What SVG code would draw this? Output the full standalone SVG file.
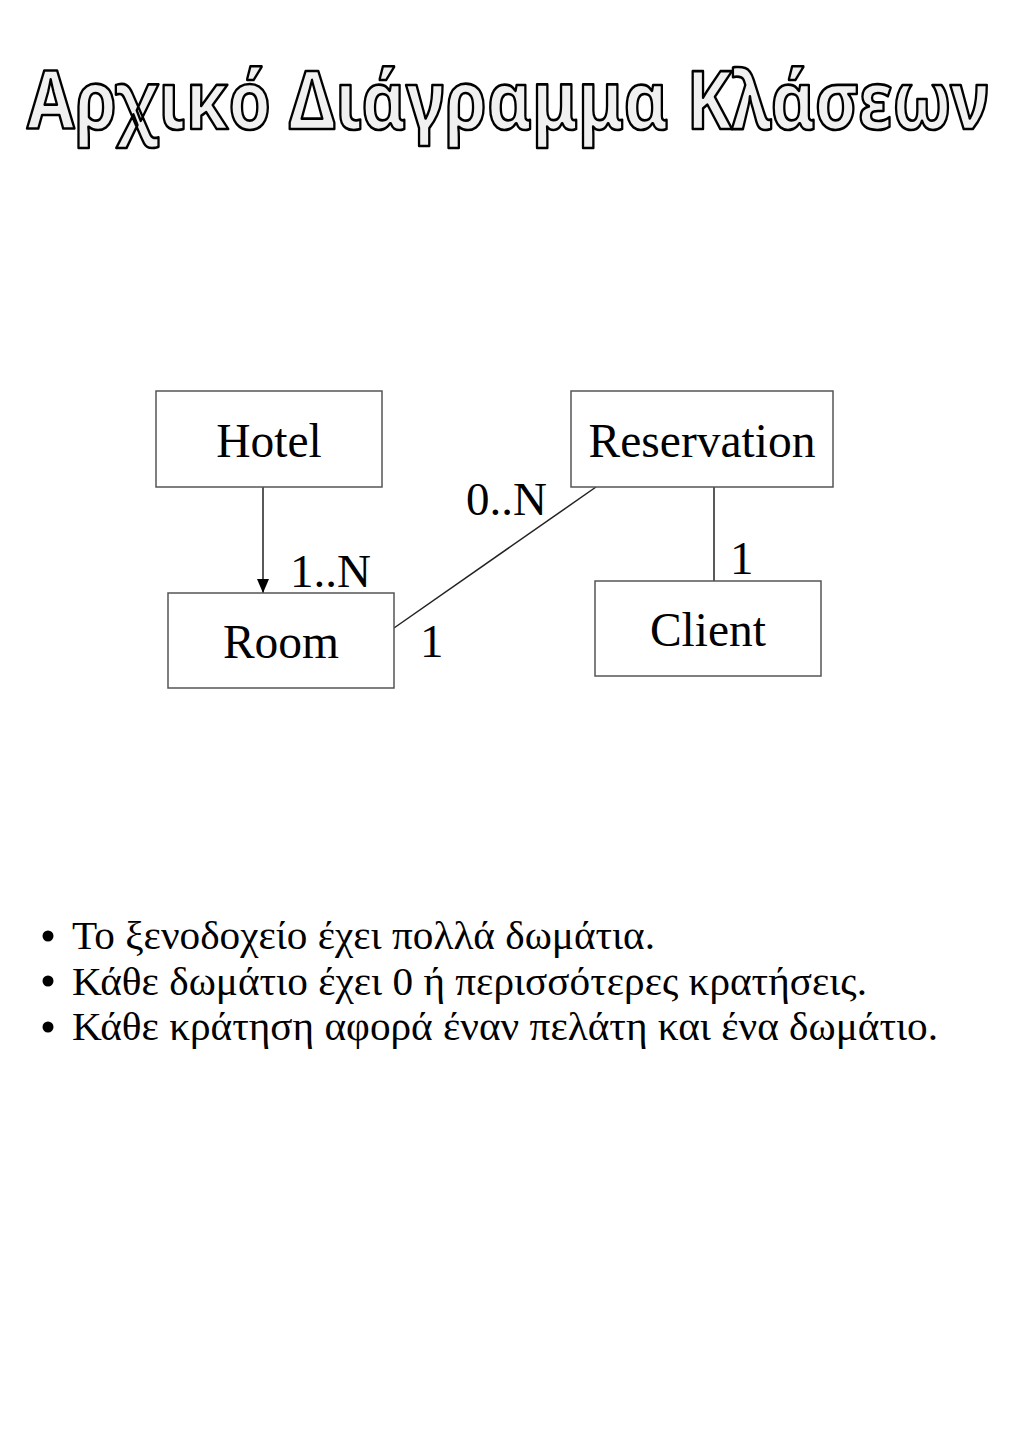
<svg xmlns="http://www.w3.org/2000/svg" width="1024" height="1448" viewBox="0 0 1024 1448">
<style>
.title{font-family:"Noto Sans","Open Sans",sans-serif;font-weight:700;font-size:68px;fill:#f0f0f0;stroke:#000;stroke-width:2.3px;stroke-linejoin:round}
.box{fill:#fff;stroke:#555;stroke-width:1.5}
.lbl{font-family:"Liberation Serif","Times New Roman",serif;font-size:47.5px;fill:#000}
.mult{font-family:"Liberation Serif","Times New Roman",serif;font-size:47px;fill:#000}
.bul{font-family:"Liberation Serif","Times New Roman",serif;font-size:39px;fill:#000}
.conn{stroke:#222;stroke-width:1.5;fill:none}
</style>
<defs>
<marker id="arr" markerWidth="14" markerHeight="12" refX="14" refY="6" orient="auto" markerUnits="userSpaceOnUse" viewBox="0 0 14 12">
<path d="M0,0 L14,6 L0,12 z" fill="#000"/>
</marker>
</defs>
<rect width="1024" height="1448" fill="#fff"/>
<text class="title" transform="translate(27,129) scale(1,1.18)" x="0" y="0" textLength="962" lengthAdjust="spacingAndGlyphs">Αρχικό Διάγραμμα Κλάσεων</text>
<g id="connectors">
<line class="conn" x1="263" y1="487" x2="263" y2="593" stroke-width="2" marker-end="url(#arr)"/>
<line class="conn" x1="394" y1="628" x2="596" y2="487"/>
<line class="conn" x1="714" y1="487" x2="714" y2="581"/>
<text class="mult" x="466" y="515">0..N</text>
<text class="mult" x="290" y="587">1..N</text>
<text class="mult" x="420" y="657">1</text>
<text class="mult" x="730" y="574">1</text>
</g>
<g id="hotel"><rect class="box" x="156" y="391" width="226" height="96"/><text class="lbl" x="269" y="457" text-anchor="middle">Hotel</text></g>
<g id="reservation"><rect class="box" x="571" y="391" width="262" height="96"/><text class="lbl" x="702" y="457" text-anchor="middle">Reservation</text></g>
<g id="room"><rect class="box" x="168" y="593" width="226" height="95"/><text class="lbl" x="281" y="658" text-anchor="middle">Room</text></g>
<g id="client"><rect class="box" x="595" y="581" width="226" height="95"/><text class="lbl" x="708" y="646" text-anchor="middle">Client</text></g>
<g id="bullets">
<circle cx="48" cy="936" r="5.5" fill="#000"/>
<circle cx="48" cy="981" r="5.5" fill="#000"/>
<circle cx="48" cy="1027" r="5.5" fill="#000"/>
<text class="bul" x="72" y="949" textLength="583" lengthAdjust="spacingAndGlyphs">Το ξενοδοχείο έχει πολλά δωμάτια.</text>
<text class="bul" x="72" y="995" textLength="795" lengthAdjust="spacingAndGlyphs">Κάθε δωμάτιο έχει 0 ή περισσότερες κρατήσεις.</text>
<text class="bul" x="72" y="1040" textLength="866" lengthAdjust="spacingAndGlyphs">Κάθε κράτηση αφορά έναν πελάτη και ένα δωμάτιο.</text>
</g>
</svg>
